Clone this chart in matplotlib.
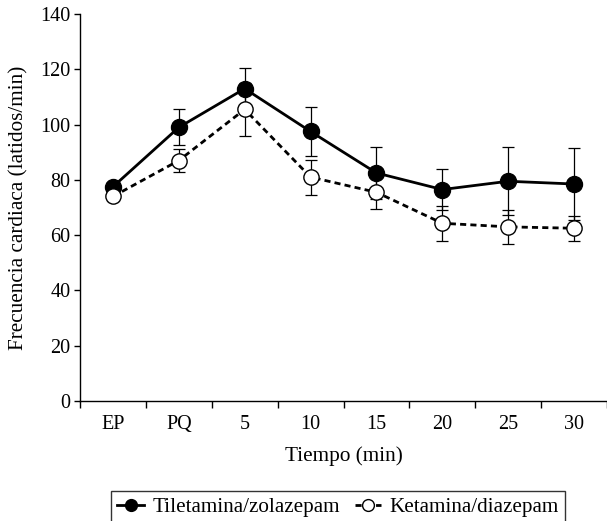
import matplotlib
matplotlib.use("Agg")
import matplotlib.pyplot as plt
import numpy as np

plt.rcParams['font.family'] = ['Liberation Serif', 'DejaVu Serif']

categories = ["EP", "PQ", "5", "10", "15", "20", "25", "30"]
tile_mean = [77.5, 99.0, 113.0, 97.5, 82.5, 76.5, 79.5, 78.5]
tile_err = [1.5, 6.5, 7.5, 9.0, 9.5, 7.3, 12.3, 13.0]
keta_mean = [74.0, 87.0, 105.5, 81.0, 75.5, 64.3, 63.0, 62.5]
keta_err = [1.5, 4.2, 9.5, 6.3, 6.0, 6.4, 6.2, 4.6]
yticks = [0, 20, 40, 60, 80, 100, 120, 140]

fig = plt.figure(figsize=(6.07, 5.21), dpi=100)
ax = fig.add_axes([0.1318, 0.2303, 0.8682, 0.7428])

x = np.arange(len(categories))

ax.errorbar(x, tile_mean, yerr=tile_err, fmt='none', ecolor='black',
            elinewidth=0.9, capsize=4.3, capthick=0.9, zorder=2)
ax.errorbar(x, keta_mean, yerr=keta_err, fmt='none', ecolor='black',
            elinewidth=0.9, capsize=4.3, capthick=0.9, zorder=2)

ax.plot(x, tile_mean, '-', color='black', lw=2.0, zorder=3)
ax.plot(x, keta_mean, '--', color='black', lw=2.0, dashes=(2.2, 1.5), zorder=3)
ax.plot(x, tile_mean, 'o', color='black', ms=11.5, zorder=4)
ax.plot(x, keta_mean, 'o', mfc='white', mec='black', mew=1.0, ms=11.0, zorder=5)

# legend handles
h1, = ax.plot([], [], '-', color='black', lw=2.0, marker='o', ms=8.5,
              mfc='black', mec='black')
h2, = ax.plot([], [], '--', color='black', lw=2.0, dashes=(2.2, 1.5), marker='o',
              ms=8.5, mfc='white', mec='black', mew=1.0)

ax.set_xlim(-0.5, len(categories) - 0.5)
ax.set_ylim(0, 140)
ax.set_yticks(yticks)
ax.tick_params(axis='y', direction='out', length=4, width=1, labelsize=14.5, pad=3)

ax.set_xticks(x)
ax.set_xticklabels(categories)
ax.tick_params(axis='x', which='major', length=0, labelsize=14.5, pad=10)
ax.set_xticks(np.arange(-0.5, len(categories), 1.0), minor=True)
ax.tick_params(axis='x', which='minor', direction='out', length=5, width=1)

for s in ['top', 'right']:
    ax.spines[s].set_visible(False)
for s in ['left', 'bottom']:
    ax.spines[s].set_linewidth(1.0)

ax.set_xlabel("Tiempo (min)", fontsize=15.3, labelpad=9)
ax.set_ylabel("Frecuencia cardiaca (latidos/min)", fontsize=15.3, labelpad=8)

leg = fig.legend([h1, h2], ["Tiletamina/zolazepam", "Ketamina/diazepam"],
                 loc='lower center', bbox_to_anchor=(0.557, -0.005), ncol=2,
                 frameon=True, fancybox=False, edgecolor='black', fontsize=15.2,
                 handlelength=1.25, handletextpad=0.4, columnspacing=0.7,
                 borderpad=0.3, borderaxespad=0.0)
leg.get_frame().set_linewidth(1.0)

fig.savefig("out.png", dpi=100)
